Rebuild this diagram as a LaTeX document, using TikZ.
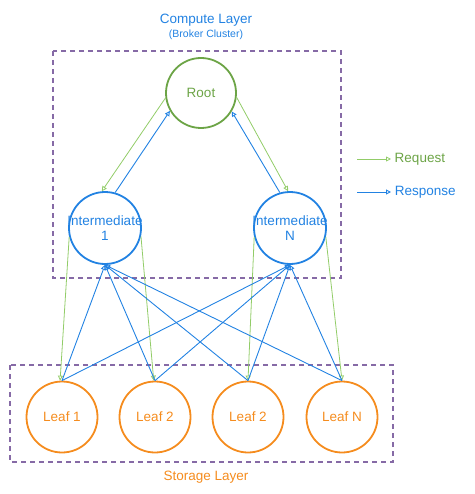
\documentclass[tikz,border=0pt]{standalone}
\usepackage{fontspec}
\setmainfont{Liberation Sans}
\usetikzlibrary{arrows.meta}
\definecolor{boxpurple}{RGB}{134,106,166}
\definecolor{rootgreen}{RGB}{108,164,70}
\definecolor{reqgreen}{RGB}{146,204,104}
\definecolor{respblue}{RGB}{34,130,226}
\definecolor{leaforange}{RGB}{245,140,30}
\tikzset{
	layer/.style={draw=boxpurple, line width=1.4pt, dash pattern=on 5pt off 4pt},
	rootnode/.style={circle, draw=rootgreen, line width=1.8pt, minimum size=70pt, inner sep=0pt, text=rootgreen},
	internode/.style={circle, draw=respblue, line width=1.8pt, minimum size=72pt, inner sep=0pt},
	leafnode/.style={circle, draw=leaforange, line width=1.8pt, minimum size=71pt, inner sep=0pt, text=leaforange},
	request/.style={draw=reqgreen, line width=0.8pt, -{Triangle[open, length=5pt, width=5pt]}},
	response/.style={draw=respblue, line width=0.9pt, -{Triangle[open, length=5pt, width=5pt]}}
}

\begin{document}
\begin{tikzpicture}[x=1pt, y=-1pt, font=\fontsize{13.5}{14.5}\selectfont]
			\useasboundingbox (0,0) rectangle (474,494);

			% Draw the two layers
			\draw[layer] (53,51) rectangle (341,278);
			\draw[layer] (10,365) rectangle (393,462);
			\node[text=respblue] (computelbl) at (206,20) {Compute Layer};
			\node[text=respblue, font=\fontsize{10.5}{11}\selectfont] (brokerlbl) at (206,35) {(Broker Cluster)};
			\node[text=leaforange] (storagelbl) at (206,477) {Storage Layer};

			% Draw the broker nodes
			\node[rootnode] (root) at (201,93) {Root};
			\node[internode, label={[text=respblue, align=center]center:Intermediate\\1}] (int1) at (105,228) {};
			\node[internode, label={[text=respblue, align=center]center:Intermediate\\N}] (intN) at (290,228) {};

			% Draw the leaves
			\node[leafnode] (leaf1) at (62,417) {Leaf 1};
			\node[leafnode] (leaf2) at (155,417) {Leaf 2};
			\node[leafnode] (leaf3) at (248,417) {Leaf 2};
			\node[leafnode] (leafN) at (342,417) {Leaf N};

			% Requests going down
			\draw[request] (root.188) -- (int1.95);
			\draw[request] (root.353) -- (intN.93);
			\draw[request] (int1.194) -- (leaf1.93);
			\draw[request] (int1.347) -- (leaf2.92);
			\draw[request] (intN.194) -- (leaf3.90);
			\draw[request] (intN.346) -- (leafN.90);

			% Responses going up
			\draw[response] (int1.74) -- (root.210);
			\draw[response] (intN.106) -- (root.329);
			\foreach \lf in {leaf1,leaf2,leaf3,leafN}{
				\draw[response] (\lf.north) -- (int1.south);
				\draw[response] (\lf.north) -- (intN.south);
			}

			% Legend
			\coordinate (reqa) at (357,159);
			\coordinate (reqb) at (391,159);
			\coordinate (resa) at (357,192);
			\coordinate (resb) at (391,192);
			\draw[request] (reqa) -- (reqb) node[right, text=rootgreen] (reqlbl) {Request};
			\draw[response] (resa) -- (resb) node[right, text=respblue] (reslbl) {Response};

		\end{tikzpicture}
\end{document}
